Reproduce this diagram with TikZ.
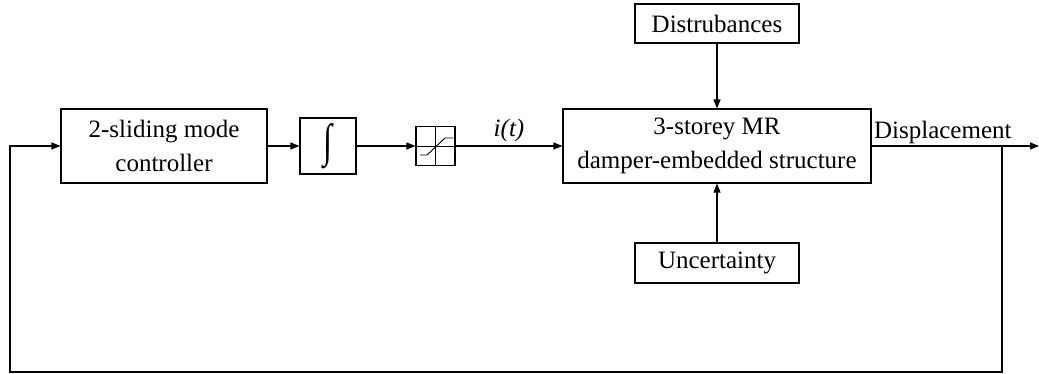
\documentclass[tikz,border=0pt]{standalone}
\usepackage{fontspec}
\usepackage{graphicx}
\setmainfont{Liberation Serif}
\usetikzlibrary{arrows.meta,calc}
\begin{document}
\begin{tikzpicture}[x=1pt,y=-1pt,
  font=\fontsize{25}{34}\selectfont,
  line width=1.1pt,
  blk/.style={draw,inner sep=0pt,align=center},
  sig/.style={-{Triangle[length=9pt,width=7pt]}}]
\useasboundingbox (0,0) rectangle (1039,374);

% blocks
\node[blk,minimum width=206,minimum height=74] (ctrl) at (164,146) {2-sliding mode\\controller};
\node[blk,minimum width=56,minimum height=56] (integ) at (328,146) {\resizebox{9pt}{33pt}{∫}};
\node[blk,minimum width=39,minimum height=39] (sat) at (435.5,146) {};
\node[blk,minimum width=308,minimum height=74] (plant) at (717,146) {3-storey MR\\damper-embedded structure};
\node[blk,minimum width=164,minimum height=39] (dist) at (717,23.5) {Distrubances};
\node[blk,minimum width=164,minimum height=40] (unc) at (717,263) {Uncertainty};

% saturation symbol
\draw[line width=0.9pt] (sat.west) -- (sat.east);
\draw[line width=0.9pt] (sat.north) -- (sat.south);
\draw[line width=0.9pt] ($(sat.center)+(-15.5,9)$) -- ($(sat.center)+(-8.5,9)$)
  -- ($(sat.center)+(9.5,-8)$) -- ($(sat.center)+(17.5,-8)$);

% forward path
\draw[sig] (ctrl) -- (integ);
\draw[sig] (integ) -- (sat);
\draw[sig] (sat) -- node[above,inner sep=4pt,font=\fontsize{25}{34}\selectfont\itshape] (it) {i(t)} (plant);
\draw[sig] (dist) -- (plant);
\draw[sig] (unc) -- (plant);

% output and feedback
\coordinate (branch) at (1002,146);
\coordinate (out) at (1039,146);
\coordinate (br) at (1002,372);
\coordinate (bl) at (10,372);
\coordinate (tl) at (10,146);
\draw[sig] (plant.east) -- (out);
\node[anchor=south west,inner sep=2pt] (disp) at (plant.east) {Displacement};
\draw[sig] (branch) -- (br) -- (bl) -- (tl) -- (ctrl.west);
\end{tikzpicture}
\end{document}
